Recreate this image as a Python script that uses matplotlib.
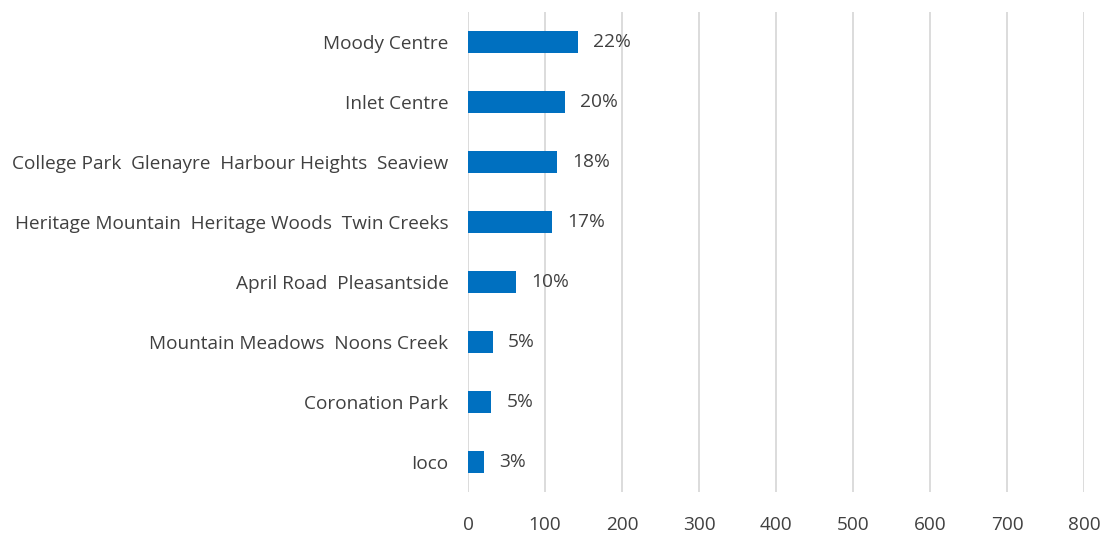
import matplotlib
matplotlib.use("Agg")
import matplotlib.pyplot as plt

categories = ["Moody Centre", "Inlet Centre",
              "College Park  Glenayre  Harbour Heights  Seaview",
              "Heritage Mountain  Heritage Woods  Twin Creeks",
              "April Road  Pleasantside", "Mountain Meadows  Noons Creek",
              "Coronation Park", "Ioco"]
values = [143, 126, 116, 109, 62, 32, 30, 21]
pct_labels = ["22%", "20%", "18%", "17%", "10%", "5%", "5%", "3%"]
xticks = [0, 100, 200, 300, 400, 500, 600, 700, 800]

plt.rcParams['font.family'] = ['Open Sans', 'DejaVu Sans']
txt = '#404040'

fig = plt.figure(figsize=(11.04, 5.36), dpi=100)
ax = fig.add_axes([468/1104, 1-492/536, 616/1104, 480/536])

n = len(categories)
ypos = list(range(n - 1, -1, -1))
ax.barh(ypos, values, height=0.37, color='#0070C0', zorder=3)
for y, v, lab in zip(ypos, values, pct_labels):
    ax.annotate(lab, (v, y), xytext=(11, 0), textcoords='offset points',
                va='center', ha='left', fontsize=13.8, color=txt)

ax.set_xlim(0, 800)
ax.set_ylim(-0.5, n - 0.5)
ax.set_yticks(ypos)
ax.set_yticklabels(categories, fontsize=13.7, color=txt)
ax.set_xticks(xticks)
ax.set_xticklabels([str(t) for t in xticks], fontsize=13.7, color=txt)
ax.tick_params(length=0, pad=17.5, axis='x')
ax.tick_params(length=0, pad=14, axis='y')
ax.grid(axis='x', color='#d9d9d9', linewidth=1.3, zorder=0)
for s in ax.spines.values():
    s.set_visible(False)

fig.savefig('out.png', dpi=100, facecolor='white')
